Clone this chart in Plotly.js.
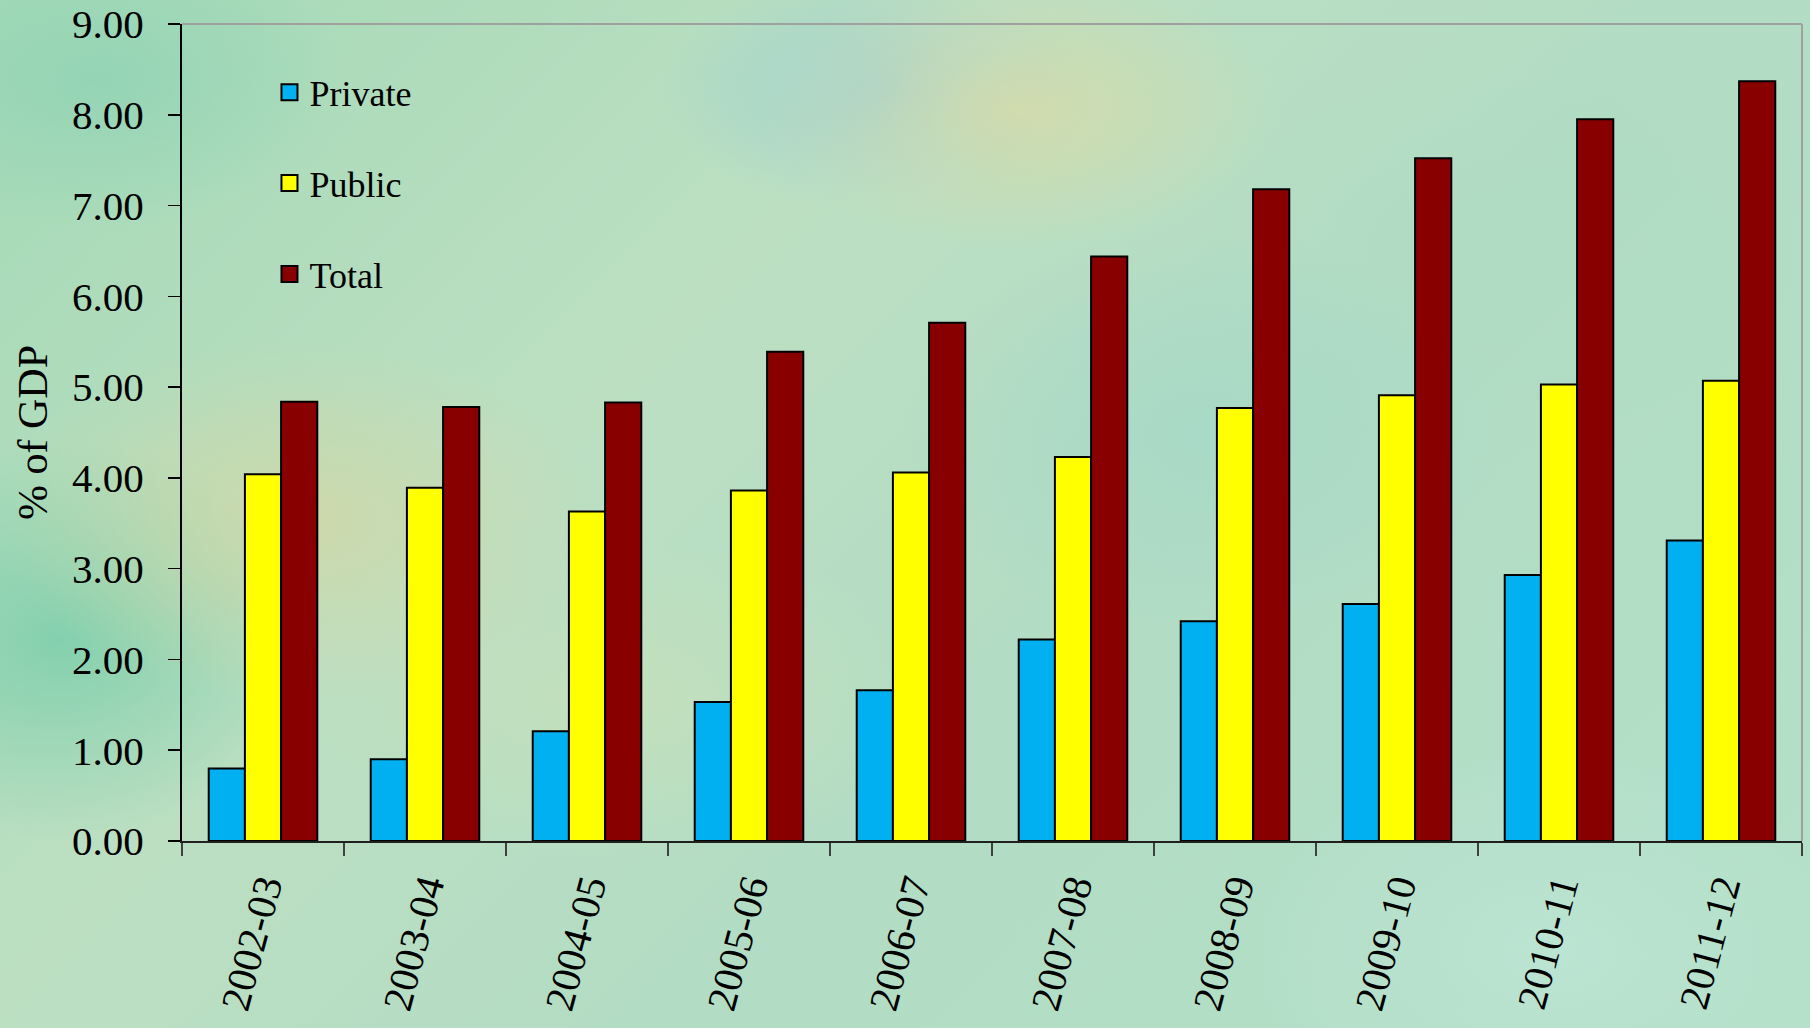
<!DOCTYPE html>
<html>
<head>
<meta charset="utf-8">
<script src="https://cdn.plot.ly/plotly-3.0.1.min.js"></script>
<style>
  html, body { margin: 0; padding: 0; width: 1810px; height: 1028px; overflow: hidden; }
  body {
    background:
      radial-gradient(ellipse 260px 140px at 1020px 110px, rgba(220,220,165,0.75), rgba(220,220,165,0) 100%),
      radial-gradient(ellipse 220px 120px at 880px 90px, rgba(150,205,215,0.7), rgba(150,205,215,0) 100%),
      radial-gradient(ellipse 300px 180px at 300px 520px, rgba(210,215,165,0.8), rgba(210,215,165,0) 100%),
      radial-gradient(ellipse 260px 200px at 60px 640px, rgba(120,205,170,0.8), rgba(120,205,170,0) 100%),
      radial-gradient(ellipse 320px 160px at 620px 700px, rgba(200,225,185,0.7), rgba(200,225,185,0) 100%),
      radial-gradient(ellipse 300px 200px at 1200px 430px, rgba(160,215,200,0.6), rgba(160,215,200,0) 100%),
      radial-gradient(ellipse 300px 200px at 1550px 950px, rgba(190,230,215,0.7), rgba(190,230,215,0) 100%),
      radial-gradient(ellipse 360px 220px at 1500px 250px, rgba(175,220,195,0.6), rgba(175,220,195,0) 100%),
      radial-gradient(ellipse 250px 150px at 100px 80px, rgba(140,210,180,0.7), rgba(140,210,180,0) 100%),
      linear-gradient(135deg, #a3d9b6 0%, #bcdfc2 35%, #b2dcc4 60%, #b4e0c8 100%);
  }
  #chart { width: 1810px; height: 1028px; }
</style>
</head>
<body>
<div id="chart"></div>
<script>
// ---- data ----
var years = ["2002-03","2003-04","2004-05","2005-06","2006-07","2007-08","2008-09","2009-10","2010-11","2011-12"];
var privateVals = [0.80, 0.90, 1.21, 1.53, 1.66, 2.22, 2.42, 2.61, 2.93, 3.31];
var publicVals  = [4.04, 3.89, 3.63, 3.86, 4.06, 4.23, 4.77, 4.91, 5.03, 5.07];
var totalVals   = [4.84, 4.78, 4.83, 5.39, 5.71, 6.44, 7.18, 7.52, 7.95, 8.37];
var seriesNames = ["Private", "Public", "Total"];
var yTitle = "% of GDP";

var colors = ["#00b0f0", "#ffff00", "#880000"];
var seriesVals = [privateVals, publicVals, totalVals];
var FONT = "Liberation Serif, Times New Roman, serif";

var traces = [];
seriesVals.forEach(function(vals, i) {
  traces.push({
    type: "bar",
    x: years,
    y: vals,
    name: seriesNames[i],
    showlegend: false,
    marker: { color: colors[i], line: { color: "#000000", width: 2 } },
    hoverinfo: "x+y+name"
  });
});
// legend entries with larger square keys
seriesNames.forEach(function(n, i) {
  traces.push({
    type: "scatter",
    mode: "markers",
    x: [null], y: [null],
    name: n,
    legendgroup: "g" + i,
    showlegend: true,
    marker: { symbol: "square", size: 16, color: colors[i], line: { color: "#000000", width: 2 } },
    hoverinfo: "skip"
  });
});

var layout = {
  width: 1810,
  height: 1028,
  paper_bgcolor: "rgba(0,0,0,0)",
  plot_bgcolor: "rgba(0,0,0,0)",
  margin: { l: 182, r: 8, t: 24, b: 187, pad: 0 },
  font: { family: FONT, color: "#000000" },
  barmode: "group",
  bargap: 0.33,
  bargroupgap: 0,
  showlegend: true,
  legend: {
    x: 0.054, xanchor: "left",
    y: 0.953, yanchor: "top",
    bgcolor: "rgba(0,0,0,0)",
    borderwidth: 0,
    font: { family: FONT, size: 36, color: "#000000" },
    tracegroupgap: 41,
    traceorder: "grouped",
    itemclick: false
  },
  xaxis: {
    type: "category",
    range: [-0.5, 9.5],
    showline: true, linecolor: "#202020", linewidth: 2,
    ticks: "outside", tickson: "boundaries", ticklen: 13, tickwidth: 1.5, tickcolor: "#404040",
    tickangle: -75,
    ticklabelstandoff: 4,
    tickfont: { family: FONT, size: 41, color: "#000000" },
    showgrid: false, zeroline: false,
    fixedrange: true
  },
  yaxis: {
    range: [0, 9],
    dtick: 1, tick0: 0,
    tickformat: ".2f",
    showline: true, linecolor: "#000000", linewidth: 2,
    ticks: "outside", ticklen: 12, tickwidth: 1.5, tickcolor: "#000000",
    ticklabelstandoff: 16,
    tickfont: { family: FONT, size: 41, color: "#000000" },
    showgrid: false, zeroline: false,
    title: { text: yTitle, font: { family: FONT, size: 42, color: "#000000" }, standoff: 11 },
    fixedrange: true
  },
  shapes: [
    { type: "line", xref: "paper", yref: "paper", x0: 0, x1: 1, y0: 1, y1: 1, line: { color: "#a0a0a0", width: 2 } },
    { type: "line", xref: "paper", yref: "paper", x0: 1, x1: 1, y0: 0, y1: 1, line: { color: "#a0a0a0", width: 2 } }
  ]
};

Plotly.newPlot("chart", traces, layout, { displayModeBar: false, staticPlot: true });
</script>
</body>
</html>
